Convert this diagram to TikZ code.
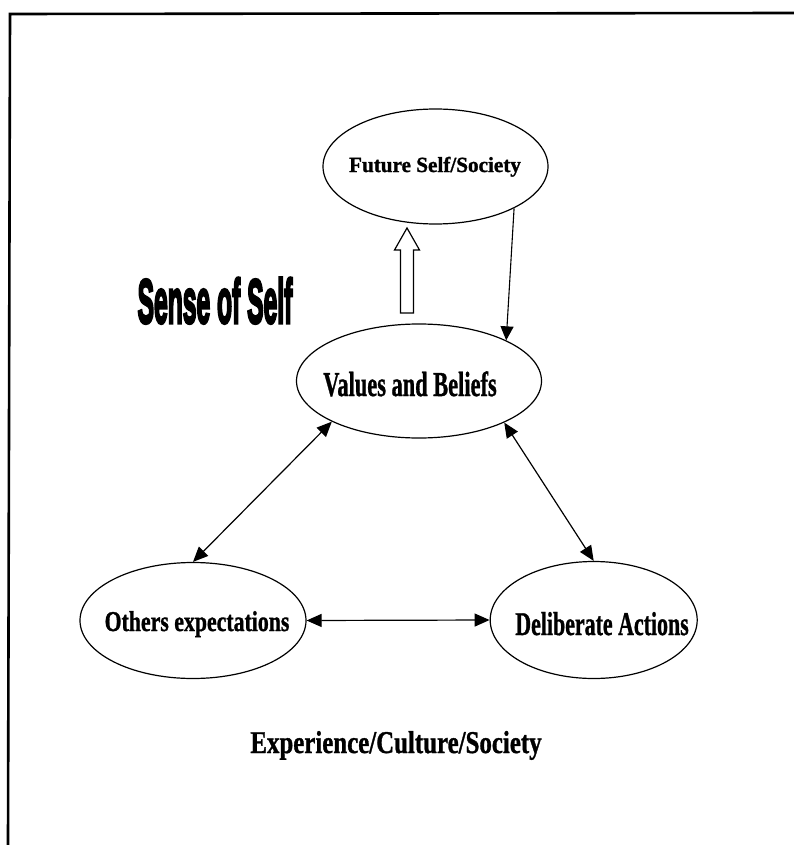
\documentclass[tikz,border=0pt]{standalone}
\usepackage{fontspec}
\usepackage{graphicx}
\setmainfont{Liberation Serif}[BoldFeatures={FakeBold=1.2}]
\newfontfamily\heavyfont[FakeBold=5]{Liberation Sans}
\usetikzlibrary{shapes.geometric,arrows.meta,calc}
\newcommand{\lab}[3]{{\fontsize{#1pt}{#1pt}\selectfont\bfseries\scalebox{#2}[1]{#3}}}
\begin{document}
\begin{tikzpicture}[x=1pt,y=-1pt,
  oval/.style={ellipse,draw,line width=1.2pt,inner sep=0pt},
  txt/.style={anchor=base,inner sep=0pt},
  link/.style={line width=1.2pt,{Triangle[length=15pt,width=13pt]}-{Triangle[length=15pt,width=13pt]}},
  oneway/.style={line width=1.1pt,-{Triangle[length=14pt,width=13pt]}}]
\useasboundingbox (0,0) rectangle (794,845);
% frame
\draw[line width=2.6pt] (8,845) -- (10,14) -- (794,13);
% ellipses
\node[oval,minimum width=225pt,minimum height=115pt] (fs) at (435.5,166.5) {};
\node[oval,minimum width=245pt,minimum height=114pt] (vb) at (419,381) {};
\node[oval,minimum width=226pt,minimum height=116pt] (oe) at (193,620.5) {};
\node[oval,minimum width=207pt,minimum height=117pt] (da) at (593.7,620) {};
% labels
\node[txt] (fst) at (435,172) {\lab{21.6}{0.98}{Future Self/Society}};
\node[txt] (vbt) at (410,396) {\lab{35}{0.64}{Values and Beliefs}};
\node[txt] (oet) at (197,631) {\lab{28.7}{0.76}{Others expectations}};
\node[txt] (dat) at (602,635) {\lab{33.2}{0.66}{Deliberate Actions}};
\node[txt] (ecs) at (396,753) {\lab{31.7}{0.785}{Experience/Culture/Society}};
\node[txt] (sos) at (215,323) {\heavyfont\bfseries\fontsize{32pt}{32pt}\selectfont\scalebox{0.77}[1.95]{Sense of Self}};
% hollow arrow from values up to future self
\coordinate (hb) at (407,313);
\coordinate (ht) at (407,228);
\draw[line width=1.2pt,fill=white,line join=miter]
  ($(hb)+(-6.5,0)$) -- ($(hb)+(6.5,0)$) -- ($(ht)+(6.5,22)$) -- ($(ht)+(12.5,22)$)
  -- (ht) -- ($(ht)+(-12.5,22)$) -- ($(ht)+(-6.5,22)$) -- cycle;
% connectors
\draw[oneway] (fs.332.7) -- (vb.25.4);
\draw[link] (vb.205.5) -- (oe.north);
\draw[link] (vb.334) -- (da.north);
\draw[link] (oe.east) -- (da.west);
\end{tikzpicture}
\end{document}
